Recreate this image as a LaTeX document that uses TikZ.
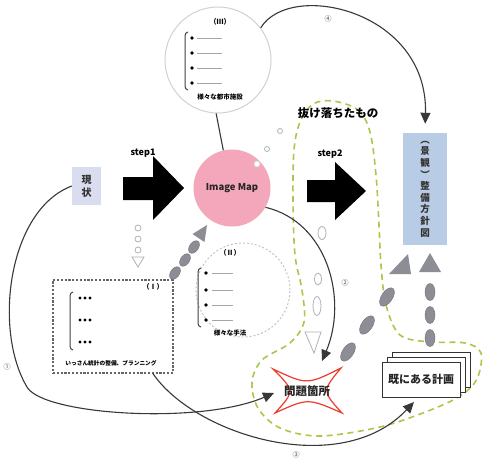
\documentclass[tikz,border=0pt]{standalone}
\usepackage{fontspec}
\setmainfont{Noto Sans CJK JP}
\usetikzlibrary{arrows.meta,shapes.geometric,calc}
\definecolor{imgpink}{HTML}{F4A7BA}
\definecolor{planblue}{HTML}{B9CCE5}
\definecolor{genjoblue}{HTML}{DADCEF}
\definecolor{loopgreen}{HTML}{A8C84C}
\definecolor{chaingray}{HTML}{8D8D95}
\definecolor{probred}{HTML}{EF3B2C}
\newcommand{\fs}[1]{\fontsize{#1}{#1}\selectfont}
\newcommand{\brk}[3]{\draw[line width=1pt,black!75] (#1+3,#2) to[out=180,in=90] (#1,#2+4) -- (#1,#3-4) to[out=-90,in=180] (#1+3,#3);}
\begin{document}
\begin{tikzpicture}[x=1pt,y=-1pt,
  conn/.style={draw=black!78,line width=1.1pt},
  tipped/.style={-{Triangle[length=11pt,width=10pt]}},
  gell/.style={ellipse,fill=chaingray,draw=chaingray!80!black,line width=0.4pt,inner sep=0},
  hell/.style={ellipse,fill=white,draw=black!30,line width=0.8pt,inner sep=0},
  docbox/.style={draw=black!80,fill=white,line width=0.9pt,minimum width=78pt,minimum height=35pt,inner sep=0},
  numlab/.style={font=\fs{7},text=black!70,inner sep=0},
  itemline/.style={draw=black!35,line width=0.5pt}]
\fill[white] (0,0) rectangle (489,461);
\useasboundingbox (0,0) rectangle (489,461);

% green dashed loop
\draw[loopgreen, line width=1.6pt, dash pattern=on 6pt off 4.5pt] plot[smooth cycle, tension=0.55] coordinates {(333,101) (358,110) (370,132) (376,175) (379,225) (381,265) (386,305) (400,335) (430,342) (465,343) (481,353) (477,379) (460,396) (428,411) (380,427) (320,436) (280,428) (258,408) (252,382) (262,360) (290,343) (304,322) (302,290) (295,255) (293,200) (294,150) (300,122) (313,104)};

% circle III
\node (c3) [circle, draw=black!18, line width=1pt, minimum size=106pt, inner sep=0] at (218,60) {};
\node (c3t) at (220,22) {\fs{7}\bfseries（Ⅲ）};
\brk{185}{32}{90}
\foreach \yy in {38,53,68,83} {\fill (192,\yy) circle (1.8); \draw[itemline] (197,\yy) -- (222,\yy);}
\node (c3x) at (220,97) {\fs{6.5}\bfseries 様々な都市施設};

% circle II
\node (c2) [circle, draw=black!25, dash pattern=on 2pt off 2pt, line width=0.9pt, minimum size=94pt, inner sep=0] at (243,290) {};
\node (c2t) at (230,253) {\fs{7}\bfseries（Ⅱ）};
\brk{198}{268}{327}
\foreach \yy in {273,290,305,320} {\fill (206,\yy) circle (1.8); \draw[itemline] (212,\yy) -- (233,\yy);}
\node (c2x) at (230,333) {\fs{6.5}\bfseries 様々な手法};

% box I
\node (ibox) [draw=black!60, dash pattern=on 2.2pt off 1.6pt, line width=1.3pt, minimum width=120pt, minimum height=93pt, inner sep=0] at (113,326.5) {};
\node (ibt) at (153,287) {\fs{7}\bfseries（Ⅰ）};
\brk{70}{292}{350}
\foreach \yy in {298,320,342} {\fill (80,\yy) circle (1.6) (85,\yy) circle (1.6) (90,\yy) circle (1.6);}
\node (ibx) at (111,363) {\fs{5.7}\bfseries いっさん統計の整備、プランニング};

% Image Map
\node (im) [circle, fill=imgpink, minimum size=77pt, inner sep=0, text=black!85] at (232,188) {\fs{9.5}\bfseries Image Map};

% genjo
\node (genjo) [fill=genjoblue, minimum width=29pt, minimum height=38pt, inner sep=0, align=center, font=\fontsize{10}{13}\selectfont\bfseries, text=black!80] at (86.5,186) {現\\状};

% plan
\node (plan) [fill=planblue, minimum width=44pt, minimum height=112pt, inner sep=0, align=center, font=\fontsize{9.5}{11.6}\selectfont\bfseries, text=black!80] at (425,189) {︵\\景\\観\\︶\\整\\備\\方\\針\\図};

% big arrows
\fill (123,177) -- (153,177) -- (153,156) -- (184,188) -- (153,220) -- (153,200) -- (123,200) -- cycle;
\fill (307,180) -- (335,180) -- (335,162) -- (366,191) -- (335,220) -- (335,202) -- (307,202) -- cycle;
\node (s1) at (143,153) {\fs{9}\bfseries step1};
\node (s2) at (330,154) {\fs{9}\bfseries step2};
\node (lost) at (338,113) {\fs{11.5}\bfseries 抜け落ちたもの};

% problem spot
\draw[probred, line width=1.2pt, fill=white] (273,369) .. controls (307,385) .. (341,368) .. controls (322,391) .. (342,413) .. controls (308,398) .. (275,413) .. controls (295,391) .. (273,369) -- cycle;
\node (prob) [minimum width=67pt, minimum height=44pt, inner sep=0, text=black!85] at (307,391) {\fs{11.5}\bfseries 問題箇所};

% existing plans
\node (doc3) [docbox] at (431,369.5) {};
\node (doc2) [docbox] at (426,374.5) {};
\node (doc1) [docbox, text=black!85] at (421,379.5) {\fs{11}\bfseries 既にある計画};

% chains
\node (ga1) [gell, minimum width=14pt, minimum height=9pt, rotate=55] at (175,273) {};
\node (ga2) [gell, minimum width=14pt, minimum height=9pt, rotate=55] at (185,260) {};
\node (ga3) [gell, minimum width=14pt, minimum height=9pt, rotate=55] at (194,247) {};
\fill[chaingray] (207,225) -- (204.5,242) -- (192.5,234) -- cycle;

\node (gb1) [gell, minimum width=10pt, minimum height=17pt] at (430,292) {};
\node (gb2) [gell, minimum width=10pt, minimum height=17pt] at (430,315) {};
\node (gb3) [gell, minimum width=10pt, minimum height=17pt] at (430,338) {};
\node (gc1) [gell, minimum width=21pt, minimum height=11pt, rotate=56] at (387,297) {};
\node (gc2) [gell, minimum width=21pt, minimum height=11pt, rotate=56] at (367,325) {};
\node (gc3) [gell, minimum width=21pt, minimum height=11pt, rotate=56] at (348,352) {};
\fill[chaingray] (389,274) -- (411,274) -- (408,254) -- cycle;
\fill[chaingray] (419,272) -- (441,272) -- (430,253) -- cycle;

\node (ha1) [hell, minimum size=6pt] at (138,228) {};
\node (ha2) [hell, minimum size=6pt] at (138,239) {};
\node (ha3) [hell, minimum size=6pt] at (138,250) {};
\draw[black!30, line width=0.8pt, fill=white] (132,257) -- (144,257) -- (138,267) -- cycle;

\node (hb1) [hell, minimum size=6pt, draw=black!15] at (257,164) {};
\node (hb2) [hell, minimum size=5pt] at (267,149) {};
\node (hb3) [hell, minimum size=5pt] at (280,131) {};

\node (hc1) [hell, minimum width=8pt, minimum height=13pt] at (322,233) {};
\node (hc2) [hell, minimum width=7pt, minimum height=12pt] at (318,279) {};
\node (hc3) [hell, minimum width=8pt, minimum height=19pt] at (317,306) {};
\draw[black!30, line width=0.8pt, fill=white] (305,332) -- (321,332) -- (314,353) -- cycle;

% connectors
\coordinate (p1) at (274,393);
\coordinate (p2) at (322,361);
\coordinate (p3) at (414,402);
\draw[conn] (c3.268) -- (im.103);
\draw[conn,tipped,shorten >=9pt] (c3.37) .. controls (290,-20) and (428,10) .. (plan.north);
\draw[conn,tipped] (im.-30) .. controls (328,222) and (348,300) .. (p2);
\draw[conn,tipped] (genjo.west) .. controls (8,210) and (-7,330) .. (27,387) .. controls (43,415) and (200,425) .. (p1);
\draw[conn,tipped] ($(ibox.south)+(40,0)$) .. controls (195,435) and (340,480) .. (p3);

\node (n1) [numlab] at (7,367) {①};
\node (n2) [numlab] at (345,283) {②};
\node (n3) [numlab] at (296,455) {③};
\node (n4) [numlab] at (328,19) {④};
\end{tikzpicture}
\end{document}
